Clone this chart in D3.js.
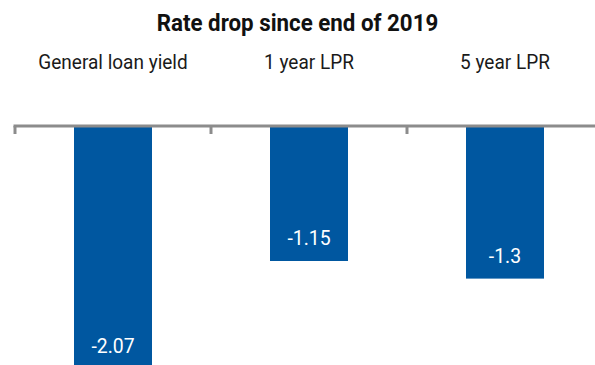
<!DOCTYPE html>
<html lang="en">
<head>
<meta charset="UTF-8">
<title>Rate drop since end of 2019</title>
<script src="https://cdn.jsdelivr.net/npm/d3@7"></script>
<style>
  body { margin: 0; background: #fff; }
  .title { font-family: Roboto, sans-serif; font-weight: bold; font-size: 23px; fill: #111; text-anchor: middle; }
  .cat { font-family: Roboto, sans-serif; font-size: 20px; fill: #1a1a1a; text-anchor: middle; }
  .val { font-family: Roboto, sans-serif; font-size: 20px; fill: #fff; text-anchor: middle; }
  .bar { fill: #0057a0; }
  .axis line { stroke: #8c8c8c; stroke-width: 3; fill: none; }
</style>
</head>
<body>
<script>
  var width = 595, height = 365;

  var categories = ["General loan yield", "1 year LPR", "5 year LPR"];
  var values = [-2.07, -1.15, -1.3];

  var svg = d3.select("body").append("svg")
      .attr("width", width)
      .attr("height", height);

  // 3 bands, last one runs off the right edge
  var xScale = d3.scaleBand()
      .domain(categories)
      .range([15, 603])
      .paddingInner(0)
      .paddingOuter(0);

  var yScale = d3.scaleLinear()
      .domain([0, -2.07])
      .range([126, 369]);

  var barW = 78;

  // squeeze text a little, the original font is narrower than Roboto
  function condense(sel, k) {
      sel.each(function() {
          var w = this.getComputedTextLength();
          d3.select(this).attr("textLength", w * k).attr("lengthAdjust", "spacingAndGlyphs");
      });
  }

  svg.append("text")
      .attr("class", "title")
      .attr("x", width / 2)
      .attr("y", 31)
      .text("Rate drop since end of 2019")
      .call(condense, 0.97);

  svg.selectAll(".cat")
      .data(categories)
      .enter().append("text")
      .attr("class", "cat")
      .attr("x", function(d) { return xScale(d) + xScale.bandwidth() / 2; })
      .attr("y", 69)
      .text(function(d) { return d; })
      .call(condense, 0.95);

  svg.selectAll(".bar")
      .data(values)
      .enter().append("rect")
      .attr("class", "bar")
      .attr("x", function(d, i) { return xScale(categories[i]) + (xScale.bandwidth() - barW) / 2; })
      .attr("y", yScale(0))
      .attr("width", barW)
      .attr("height", function(d) { return yScale(d) - yScale(0); });

  svg.selectAll(".val")
      .data(values)
      .enter().append("text")
      .attr("class", "val")
      .attr("x", function(d, i) { return xScale(categories[i]) + xScale.bandwidth() / 2; })
      .attr("y", function(d) { return yScale(d) - 16; })
      .text(function(d) { return d; })
      .call(condense, 0.97);

  // category axis with ticks at band boundaries
  var axis = svg.append("g")
      .attr("class", "axis")
      .attr("transform", "translate(0," + yScale(0) + ")");

  axis.append("line")
      .attr("x1", xScale.range()[0] - 1.5)
      .attr("x2", xScale.range()[1])
      .attr("y1", 0).attr("y2", 0);

  axis.selectAll(".tick")
      .data(categories)
      .enter().append("line")
      .attr("class", "tick")
      .attr("x1", function(d) { return xScale(d); })
      .attr("x2", function(d) { return xScale(d); })
      .attr("y1", 0)
      .attr("y2", 8);
</script>
</body>
</html>
